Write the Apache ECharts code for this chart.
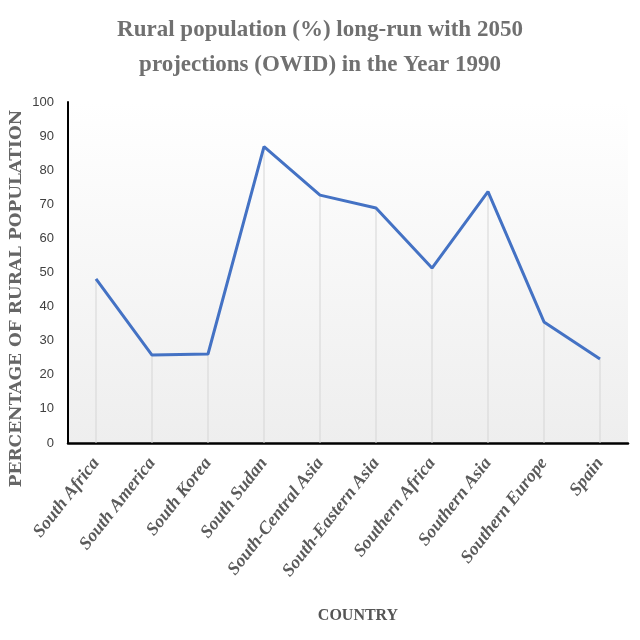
<!DOCTYPE html>
<html>
<head>
<meta charset="utf-8">
<script src="https://cdn.jsdelivr.net/npm/echarts@6/dist/echarts.min.js"></script>
<style>html,body{margin:0;padding:0;background:#fff}#c{width:640px;height:640px}</style>
</head>
<body>
<div id="c"></div>
<script>
const categories = ['South Africa','South America','South Korea','South Sudan','South-Central Asia','South-Eastern Asia','Southern Africa','Southern Asia','Southern Europe','Spain'];
const ruralPct = [48.1, 25.8, 26.1, 86.9, 72.7, 68.9, 51.3, 73.7, 35.5, 24.6];
const yTicks = [0,10,20,30,40,50,60,70,80,90,100];

const chart = echarts.init(document.getElementById('c'));
chart.setOption({
  animation: false,
  backgroundColor: '#fff',
  title: {
    text: 'Rural population (%) long-run with 2050\nprojections (OWID) in the Year 1990',
    left: 'center',
    top: 8,
    textStyle: {fontFamily: 'Liberation Serif', fontWeight: 'bold', fontSize: 23, lineHeight: 35, color: '#707070'}
  },
  grid: {left: 68, right: 12, top: 102, bottom: 197, outerBoundsMode: 'none', containLabel: false,
    backgroundColor: new echarts.graphic.LinearGradient(0,0,0,1,[{offset:0,color:'#ffffff'},{offset:1,color:'#eeeeee'}]),
    show: true, borderWidth: 0},
  xAxis: {
    type: 'category',
    data: categories,
    boundaryGap: true,
    axisLine: {lineStyle: {color: '#000', width: 2.5}},
    axisTick: {show: false},
    axisLabel: {rotate: 52, interval: 0, margin: 17, fontFamily: 'Liberation Serif', fontStyle: 'italic', fontWeight: 'bold', fontSize: 18, color: '#5a5a5a'},
    name: 'COUNTRY',
    nameLocation: 'middle',
    nameGap: 165,
    nameMoveOverlap: false,
    nameTextStyle: {fontFamily: 'Liberation Serif', fontWeight: 'bold', fontSize: 16, color: '#555', padding: [0, 0, 0, 20]}
  },
  yAxis: {
    type: 'value',
    min: 0, max: 100, interval: 10,
    axisLine: {show: true, lineStyle: {color: '#000', width: 2}},
    axisTick: {show: false},
    splitLine: {show: false},
    axisLabel: {margin: 14, fontFamily: 'Liberation Sans', fontSize: 13, color: '#404040',
      formatter: v => yTicks.includes(v) ? String(v) : ''},
    name: 'PERCENTAGE OF RURAL POPULATION',
    nameLocation: 'middle',
    nameGap: 43,
    nameMoveOverlap: false,
    nameTextStyle: {fontFamily: 'DejaVu Serif', fontWeight: 'bold', fontSize: 17, color: '#666', padding: [0, 0, 0, -52]}
  },
  series: [
    {
      type: 'bar',
      data: ruralPct,
      barWidth: 1,
      itemStyle: {color: '#d6d6d6'},
      silent: true,
      z: 1
    },
    {
      type: 'line',
      data: ruralPct,
      symbol: 'none',
      lineStyle: {color: '#4472C4', width: 3},
      z: 3
    }
  ]
});
</script>
</body>
</html>
